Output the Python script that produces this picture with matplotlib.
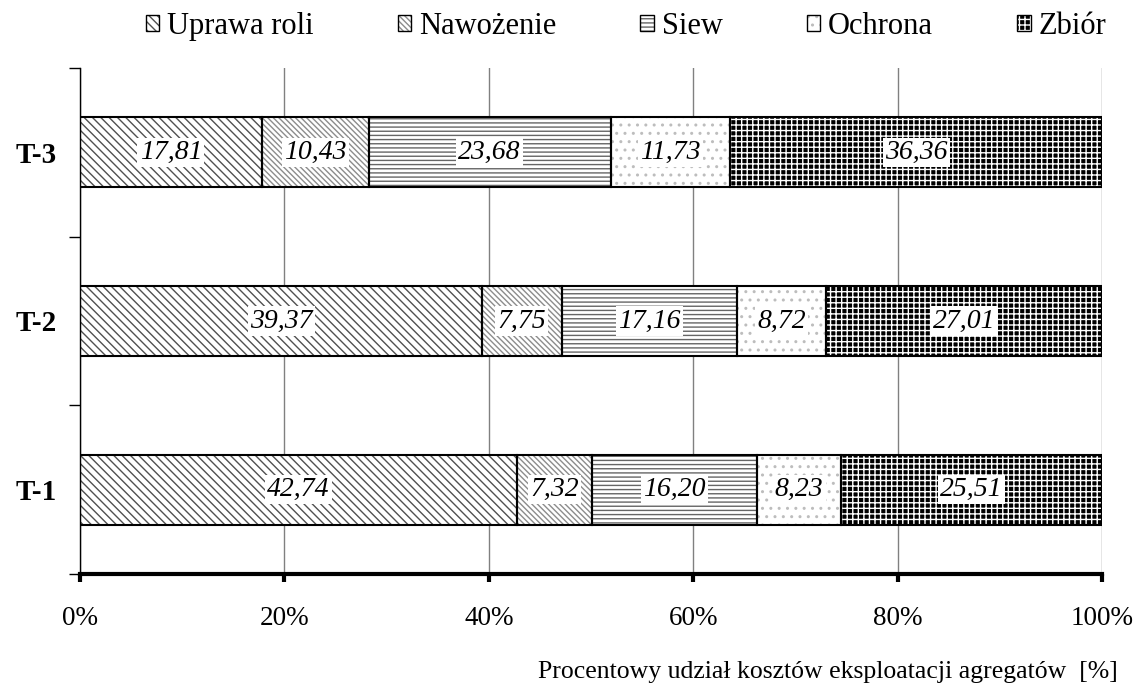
import matplotlib
matplotlib.use('Agg')
import matplotlib.pyplot as plt
from matplotlib.patches import Patch
import numpy as np

plt.rcParams['font.family'] = ['Liberation Serif', 'DejaVu Serif']
plt.rcParams['hatch.linewidth'] = 1.0

categories = ['T-1', 'T-2', 'T-3']
series_names = ['Uprawa roli', 'Nawożenie', 'Siew', 'Ochrona', 'Zbiór']
# udzial [%] dla T-1, T-2, T-3
uprawa = [42.74, 39.37, 17.81]
nawozenie = [7.32, 7.75, 10.43]
siew = [16.20, 17.16, 23.68]
ochrona = [8.23, 8.72, 11.73]
zbior = [25.51, 27.01, 36.36]
x_ticks = [0, 20, 40, 60, 80, 100]
x_tick_labels = ['0%', '20%', '40%', '60%', '80%', '100%']

series = [uprawa, nawozenie, siew, ochrona, zbior]
# (face, hatch colour, hatch)
styles = [('white', '#505050', '\\\\\\\\'),
          ('white', '#8c8c8c', '\\\\\\\\\\\\'),
          ('white', '#666666', '----'),
          ('white', '#bdbdbd', '..'),
          ('black', 'white', '+++')]

fig = plt.figure(figsize=(11.34, 6.93), dpi=100)
ax = fig.add_axes([0.0705, 0.1717, 0.9013, 0.7302])
ax.set_axisbelow(True)

y = np.arange(len(categories))
h = 0.415
left = np.zeros(len(categories))
handles = []
for vals, (fc, hc, hatch) in zip(series, styles):
    vals = np.array(vals)
    ax.barh(y, vals, left=left, height=h, color=fc, edgecolor=hc,
            hatch=hatch, linewidth=0, zorder=2)
    ax.barh(y, vals, left=left, height=h, fill=False, edgecolor='black',
            linewidth=1.5, zorder=3)
    for yi, v, l in zip(y, vals, left):
        ax.text(l + v / 2, yi, f"{v:.2f}".replace('.', ','), ha='center',
                va='center', fontsize=20, style='italic', zorder=4,
                bbox=dict(boxstyle='square,pad=0.08', fc='white', ec='none'))
    left += vals
    handles.append((Patch(facecolor=fc, edgecolor=hc, hatch=hatch, linewidth=0),
                    Patch(fill=False, edgecolor='black', linewidth=1.0)))

ax.set_xlim(0, 100)
ax.set_ylim(-0.5, 2.5)
ax.set_xticks(x_ticks)
ax.set_xticklabels(x_tick_labels, fontsize=19.5)
ax.tick_params(axis='x', direction='out', length=6, width=3, pad=17)
ax.xaxis.grid(True, color='#808080', linewidth=1)

ax.set_yticks([-0.5, 0.5, 1.5, 2.5])
ax.set_yticklabels([])
ax.tick_params(axis='y', which='major', direction='out', length=8, width=1)
ax.set_yticks(y, minor=True)
ax.set_yticklabels(categories, minor=True, fontsize=21, fontweight='bold')
ax.tick_params(axis='y', which='minor', length=0, pad=17)

for s in ['top', 'right']:
    ax.spines[s].set_visible(False)
ax.spines['bottom'].set_linewidth(3)
ax.spines['left'].set_linewidth(1)

fig.legend(handles, series_names, loc='center', bbox_to_anchor=(0.552, 0.962),
           ncol=5, frameon=False, fontsize=22, handlelength=0.45,
           handleheight=0.45, handletextpad=0.25, columnspacing=2.75)

fig.text(0.986, 0.030, 'Procentowy udział kosztów eksploatacji agregatów  [%]',
         ha='right', va='center', fontsize=18.5)

fig.savefig('out.png', dpi=100)
